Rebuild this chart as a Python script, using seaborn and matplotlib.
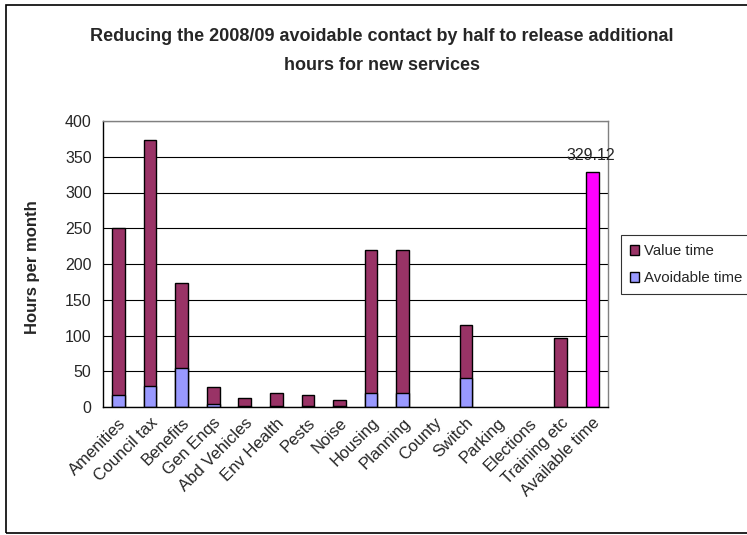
import matplotlib
matplotlib.use("Agg")
import matplotlib.pyplot as plt
from matplotlib.patches import Patch, Rectangle
from matplotlib.ticker import FixedLocator, MultipleLocator
import numpy as np
import pandas as pd
import seaborn as sns

# Service areas along the x axis
categories = ["Amenities", "Council tax", "Benefits", "Gen Enqs", "Abd Vehicles",
              "Env Health", "Pests", "Noise", "Housing", "Planning", "County",
              "Switch", "Parking", "Elections", "Training etc", "Available time"]

# Hours per month (stacked: avoidable at the bottom, value time above)
avoidable_time = [17, 30, 55, 4, 1, 2, 2, 2, 19, 19, np.nan, 40, np.nan, np.nan, np.nan, np.nan]
value_time = [233, 343, 118, 24.5, 11, 17, 14.5, 7.5, 200, 200, np.nan, 75, np.nan, np.nan, 96, np.nan]
available_time = [np.nan] * 15 + [329.12]

VALUE_COL = "#993366"
AVOID_COL = "#9999FF"
AVAIL_COL = "#FF00FF"

df = pd.DataFrame({
    "category": categories,
    "avoidable": avoidable_time,
    "value": value_time,
    "available": available_time,
})
df["total"] = df["avoidable"].fillna(0) + df["value"].fillna(0)
df.loc[df["value"].isna() & df["avoidable"].isna(), "total"] = np.nan
df["total"] = df["total"].fillna(df["available"])

sns.set_style("white")
plt.rcParams["font.family"] = ["Liberation Sans", "DejaVu Sans"]

fig = plt.figure(figsize=(7.47, 5.35), dpi=100)
ax = fig.add_axes([102.7 / 747, 1 - 407 / 535, (608 - 102.7) / 747, (407 - 121) / 535])

palette = {c: VALUE_COL for c in categories}
palette["Available time"] = AVAIL_COL

# Full stack height first, then the avoidable segment drawn over its base
sns.barplot(data=df, x="category", y="total", hue="category", order=categories,
            palette=palette, legend=False, width=0.4, edgecolor="black",
            linewidth=1, ax=ax, errorbar=None, saturation=1)
sns.barplot(data=df, x="category", y="avoidable", order=categories,
            color=AVOID_COL, width=0.4, edgecolor="black", linewidth=1,
            ax=ax, errorbar=None, saturation=1)

# Value label on the available-time bar
idx = categories.index("Available time")
ax.annotate(f"{available_time[idx]:.2f}", xy=(idx, available_time[idx]),
            xytext=(-1, 6), textcoords="offset points", ha="center", va="bottom",
            fontsize=11.5)

ax.set_xlim(-0.5, len(categories) - 0.5)
ax.set_ylim(0, 400)
ax.yaxis.set_major_locator(MultipleLocator(50))
ax.set_axisbelow(True)
ax.yaxis.grid(True, color="black", linewidth=0.8)
ax.xaxis.grid(False)

ax.set_xlabel("")
ax.set_ylabel("")
ax.set_xticks(range(len(categories)))
ax.set_xticklabels(categories, rotation=45, ha="right", rotation_mode="anchor", fontsize=12)
ax.xaxis.set_minor_locator(FixedLocator(np.arange(-0.5, len(categories), 1.0)))
ax.tick_params(axis="x", which="major", length=0, pad=6)
ax.tick_params(axis="x", which="minor", length=5, width=1, color="black", direction="out")
ax.tick_params(axis="y", which="major", length=5, width=1, color="black",
               direction="out", labelsize=11.5, pad=3)

for side in ("left", "bottom"):
    ax.spines[side].set_color("black")
    ax.spines[side].set_linewidth(1)
for side in ("top", "right"):
    ax.spines[side].set_color("#808080")
    ax.spines[side].set_linewidth(1)

fig.text(382 / 747, 1 - 37 / 535,
         "Reducing the 2008/09 avoidable contact by half to release additional",
         ha="center", va="center", fontsize=13, fontweight="bold")
fig.text(382 / 747, 1 - 66 / 535, "hours for new services",
         ha="center", va="center", fontsize=13, fontweight="bold")
fig.text(33 / 747, 1 - 267 / 535, "Hours per month", rotation=90,
         ha="center", va="center", fontsize=12, fontweight="bold")

handles = [Patch(facecolor=VALUE_COL, edgecolor="black", label="Value time"),
           Patch(facecolor=AVOID_COL, edgecolor="black", label="Avoidable time")]
leg = fig.legend(handles=handles, loc="upper left", bbox_to_anchor=(620.7 / 747, 1 - 235 / 535),
                 fontsize=10.8, frameon=True, fancybox=False, handlelength=0.65,
                 handleheight=0.65, handletextpad=0.3, borderpad=0.6, labelspacing=0.9,
                 borderaxespad=0)
leg.get_frame().set_edgecolor("black")
leg.get_frame().set_linewidth(0.8)

# Chart area border
fig.patches.append(Rectangle((6 / 747, 2 / 535), 1.0, (533 - 5) / 535,
                             transform=fig.transFigure, fill=False,
                             edgecolor="black", linewidth=1.2, clip_on=False))

fig.savefig("out.png", dpi=100)
